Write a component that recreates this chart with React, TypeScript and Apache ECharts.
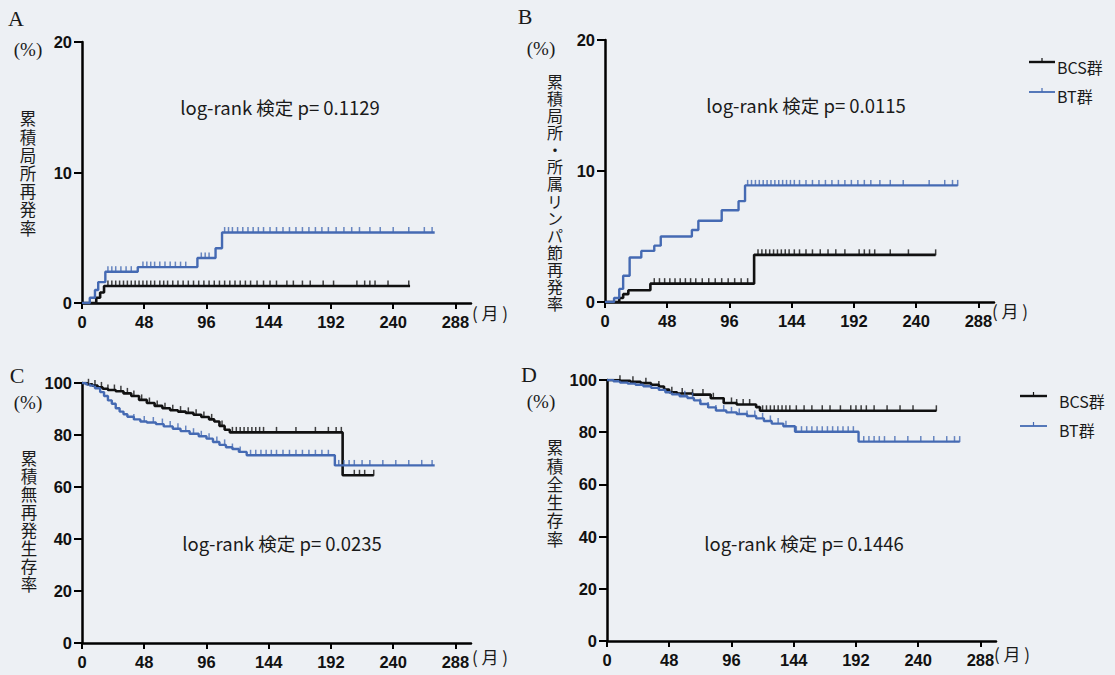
import React, { useEffect, useRef } from "react";
import * as echarts from "echarts";

// ---------- data ----------
const xTicks = [0, 48, 96, 144, 192, 240, 288];

// Panel A: cumulative local recurrence (%)
const aBcsT = [0, 11, 14, 17, 253];
const aBcsV = [0, 0.4, 0.8, 1.3, 1.3];
const aBtT = [0, 6, 10, 12.5, 18, 43, 89, 103, 108, 272];
const aBtV = [0, 0.4, 1.0, 1.6, 2.4, 2.75, 3.45, 4.2, 5.4, 5.4];
const aBcsCens = [20, 23, 26, 29, 32, 35, 38, 41, 44, 47, 50, 53, 56, 60, 63, 66, 70, 74, 78, 82, 86, 90, 94, 98, 102, 106, 110, 114, 118, 122, 126, 130, 135, 140, 145, 150, 158, 163, 170, 176, 186, 194, 212, 218, 222, 226, 236, 252];
const aBtCens = [20, 23, 26, 30, 34, 38, 47, 50, 53, 56, 60, 64, 68, 72, 76, 80, 92, 95, 98, 110, 113, 116, 120, 124, 128, 132, 136, 140, 145, 150, 155, 160, 165, 170, 175, 180, 185, 190, 196, 202, 208, 214, 222, 230, 240, 252, 264, 270];

// Panel B: cumulative locoregional recurrence (%)
const bBcsT = [0, 11, 14, 18, 35, 115, 255];
const bBcsV = [0, 0.3, 0.6, 0.9, 1.4, 3.6, 3.6];
const bBtT = [0, 7, 11, 14, 19, 28, 38, 43, 67, 72, 90, 103, 108, 272];
const bBtV = [0, 0.3, 1.0, 2.0, 3.4, 3.9, 4.3, 5.0, 5.5, 6.2, 7.0, 7.7, 8.9, 8.9];
const bBcsCens = [38, 42, 46, 50, 54, 58, 62, 66, 70, 75, 80, 85, 90, 95, 100, 105, 110, 118, 121, 124, 127, 130, 133, 136, 139, 142, 146, 150, 155, 160, 166, 172, 178, 185, 196, 200, 204, 208, 220, 234, 255];
const bBtCens = [110, 113, 116, 119, 122, 125, 128, 131, 134, 137, 140, 143, 146, 150, 155, 160, 165, 170, 175, 180, 185, 190, 195, 200, 205, 212, 220, 230, 250, 262, 268, 272];

// Panel C: cumulative recurrence-free survival (%)
const cBcsT = [0, 4, 8, 12, 16, 20, 26, 32, 38, 44, 50, 56, 62, 68, 74, 80, 86, 92, 98, 102, 106, 110, 114, 201, 225];
const cBcsV = [100, 99.5, 99, 98.3, 97.8, 97.3, 96.8, 96, 95, 93.5, 92.3, 91.2, 90.3, 89.5, 89, 88.5, 87.8, 86.9, 86, 85.2, 83.5, 82, 81, 64.5, 64.5];
const cBtT = [0, 3, 6, 10, 14, 17, 20, 23, 26, 29, 32, 35, 40, 45, 50, 57, 63, 70, 76, 83, 90, 96, 101, 106, 111, 116, 121, 127, 195, 272];
const cBtV = [100, 99.5, 99, 98, 96.5, 95, 93.3, 92, 90.3, 89, 88, 87, 86, 85.2, 84.8, 84.2, 83.3, 82.4, 81.5, 80.5, 79.5, 78.6, 77.3, 76.2, 75.3, 74.6, 73.5, 72.2, 68.3, 68.3];
const cBcsCens = [5, 10, 15, 20, 25, 30, 35, 40, 46, 52, 58, 64, 70, 76, 82, 88, 94, 100, 108, 116, 119, 122, 125, 128, 131, 134, 137, 140, 150, 165, 180, 190, 196, 200, 210, 214, 218, 225];
const cBtCens = [40, 48, 55, 62, 68, 74, 80, 86, 92, 98, 104, 110, 116, 122, 130, 134, 138, 142, 146, 150, 155, 160, 165, 170, 175, 180, 185, 190, 198, 202, 206, 210, 216, 222, 232, 242, 252, 262, 270];

// Panel D: cumulative overall survival (%)
const dBcsT = [0, 10, 18, 26, 34, 40, 44, 48, 54, 66, 80, 90, 100, 115, 118, 254];
const dBcsV = [100, 99.7, 99.3, 98.8, 98.2, 97.5, 96.3, 95.3, 94.8, 94.4, 93, 91.2, 90.6, 89.6, 88.2, 88.2];
const dBtT = [0, 5, 10, 16, 22, 28, 34, 40, 45, 50, 56, 62, 67, 72, 78, 84, 92, 100, 108, 115, 121, 127, 136, 145, 194, 272];
const dBtV = [100, 99.5, 99, 98.6, 98.2, 97.6, 97, 96.2, 95.3, 94.5, 93.8, 93.1, 92.2, 90.8, 89.5, 88.3, 87.6, 87, 86.2, 85.3, 84.3, 83.3, 82.3, 80.2, 76.4, 76.4];
const dBcsCens = [10, 20, 30, 40, 50, 58, 66, 74, 82, 90, 96, 100, 105, 110, 120, 123, 126, 129, 132, 135, 138, 141, 146, 152, 158, 166, 172, 180, 188, 192, 196, 200, 206, 216, 226, 236, 254];
const dBtCens = [60, 66, 72, 78, 84, 90, 96, 102, 108, 114, 120, 126, 132, 138, 146, 150, 154, 158, 162, 166, 170, 174, 178, 182, 186, 190, 198, 202, 206, 210, 214, 222, 232, 242, 252, 262, 268, 272];

const groupNames = ["BCS群", "BT群"];
const pValues = ["0.1129", "0.0115", "0.0235", "0.1446"];
const yTitles = ["累積局所再発率", "累積局所・所属リンパ節再発率", "累積無再発生存率", "累積全生存率"];
const panelLetters = ["A", "B", "C", "D"];

// ---------- style ----------
const BG = "#edf0f4";
const BLACK = "#111111";
const BLUE = "#456ab3";
const SANS = "'Noto Sans CJK JP', 'Noto Sans', sans-serif";
const SERIF = "'Liberation Serif', 'DejaVu Serif', serif";
const NUM = "'Liberation Sans', Arial, sans-serif";

function stepValue(times: number[], vals: number[], t: number) {
  let v = vals[0];
  for (let i = 0; i < times.length; i++) {
    if (times[i] <= t) v = vals[i];
  }
  return v;
}

const grids = [
  { left: 82, top: 42, width: 389, height: 261 },
  { left: 605, top: 40, width: 389, height: 262 },
  { left: 82, top: 383, width: 389, height: 260 },
  { left: 607, top: 380, width: 389, height: 261 },
];

function buildOption() {
  const panels = [
    { bcsT: aBcsT, bcsV: aBcsV, btT: aBtT, btV: aBtV, bcsC: aBcsCens, btC: aBtCens, max: 20, interval: 10 },
    { bcsT: bBcsT, bcsV: bBcsV, btT: bBtT, btV: bBtV, bcsC: bBcsCens, btC: bBtCens, max: 20, interval: 10 },
    { bcsT: cBcsT, bcsV: cBcsV, btT: cBtT, btV: cBtV, bcsC: cBcsCens, btC: cBtCens, max: 100, interval: 20 },
    { bcsT: dBcsT, bcsV: dBcsV, btT: dBtT, btV: dBtV, bcsC: dBcsCens, btC: dBtCens, max: 100, interval: 20 },
  ];

  const xAxis: any[] = [];
  const yAxis: any[] = [];
  const series: any[] = [];

  panels.forEach((p, i) => {
    xAxis.push({
      type: "value",
      gridIndex: i,
      min: 0,
      max: 300,
      splitLine: { show: false },
      axisLine: { show: true, lineStyle: { color: "#000", width: 2.5 } },
      axisTick: { show: true, length: 6, customValues: xTicks, lineStyle: { color: "#000", width: 2 } },
      axisLabel: {
        customValues: xTicks,
        margin: 10,
        color: "#111",
        fontSize: 16.5,
        fontWeight: "bold",
        fontFamily: NUM,
      },
    });
    yAxis.push({
      type: "value",
      gridIndex: i,
      min: 0,
      max: p.max,
      interval: p.interval,
      splitLine: { show: false },
      axisLine: { show: true, lineStyle: { color: "#000", width: 2.5 } },
      axisTick: { show: true, length: 8, lineStyle: { color: "#000", width: 2 } },
      axisLabel: {
        margin: 10,
        color: "#111",
        fontSize: 16.5,
        fontWeight: "bold",
        fontFamily: NUM,
      },
    });

    const curves = [
      { name: groupNames[0], t: p.bcsT, v: p.bcsV, c: p.bcsC, color: BLACK, w: 2.6 },
      { name: groupNames[1], t: p.btT, v: p.btV, c: p.btC, color: BLUE, w: 2.4 },
    ];
    curves.forEach((cv) => {
      series.push({
        name: cv.name,
        type: "line",
        xAxisIndex: i,
        yAxisIndex: i,
        step: "end",
        symbol: "none",
        lineStyle: { color: cv.color, width: cv.w },
        itemStyle: { color: cv.color },
        data: cv.t.map((t, k) => [t, cv.v[k]]),
        silent: true,
        z: 3,
      });
      series.push({
        name: cv.name,
        type: "scatter",
        xAxisIndex: i,
        yAxisIndex: i,
        symbol: "rect",
        symbolSize: [1.5, 6],
        symbolOffset: [0, -2.5],
        itemStyle: { color: cv.color },
        data: cv.c.map((t) => [t, stepValue(cv.t, cv.v, t)]),
        silent: true,
        z: 4,
      });
    });
  });

  const textStyle = (extra: any) => ({ fill: "#1a1a1a", ...extra });

  const graphic: any[] = [];
  const letterPos = [
    [16, 18],
    [525, 16],
    [17, 375],
    [529, 374],
  ];
  const pctPos = [
    [28, 49],
    [541, 48],
    [28, 402],
    [541, 401],
  ];
  // x, centre y, spacing between characters, font size
  const yTitlePos = [
    [28, 173, 18.2, 16.5],
    [555, 192, 17.1, 16],
    [29, 521, 18, 16.5],
    [555, 493, 18.3, 16.5],
  ];
  const pPos = [
    [280, 107],
    [806, 105],
    [282, 543],
    [804, 543],
  ];
  const monthPos = [
    [472, 312],
    [992, 310],
    [472, 656],
    [994, 653],
  ];
  for (let i = 0; i < 4; i++) {
    graphic.push({
      type: "text",
      x: letterPos[i][0],
      y: letterPos[i][1],
      style: textStyle({ text: panelLetters[i], font: `22px ${SERIF}`, align: "center", verticalAlign: "middle" }),
    });
    graphic.push({
      type: "text",
      x: pctPos[i][0],
      y: pctPos[i][1],
      style: textStyle({ text: "(%)", font: `19px ${SERIF}`, align: "center", verticalAlign: "middle" }),
    });
    graphic.push({
      type: "text",
      x: yTitlePos[i][0],
      y: yTitlePos[i][1],
      style: textStyle({
        text: Array.from(yTitles[i]).join("\n"),
        font: `${yTitlePos[i][3]}px ${SANS}`,
        lineHeight: yTitlePos[i][2],
        align: "center",
        verticalAlign: "middle",
      }),
    });
    graphic.push({
      type: "text",
      x: pPos[i][0],
      y: pPos[i][1],
      style: textStyle({
        text: `log-rank 検定 p= ${pValues[i]}`,
        font: `18.5px ${SANS}`,
        align: "center",
        verticalAlign: "middle",
      }),
    });
    graphic.push({
      type: "text",
      x: monthPos[i][0],
      y: monthPos[i][1],
      style: textStyle({ text: "( 月 )", font: `17px ${SANS}`, align: "left", verticalAlign: "middle" }),
    });
  }

  // Legends (panels B and D)
  const legends = [
    { x1: 1029, x2: 1055, ys: [62, 92], tx: 1057, ty: [67, 96] },
    { x1: 1020, x2: 1047, ys: [396, 426], tx: 1059, ty: [401, 430] },
  ];
  legends.forEach((lg) => {
    [BLACK, BLUE].forEach((col, k) => {
      const y = lg.ys[k];
      const mid = (lg.x1 + lg.x2) / 2;
      graphic.push({
        type: "line",
        shape: { x1: lg.x1, y1: y, x2: lg.x2, y2: y },
        style: { stroke: col, lineWidth: k === 0 ? 2.4 : 1.8 },
      });
      graphic.push({
        type: "line",
        shape: { x1: mid, y1: y - 4, x2: mid, y2: y },
        style: { stroke: col, lineWidth: 1.2 },
      });
      graphic.push({
        type: "text",
        x: lg.tx,
        y: lg.ty[k],
        style: textStyle({ text: groupNames[k], font: `16px ${SANS}`, align: "left", verticalAlign: "middle" }),
      });
    });
  });

  return {
    animation: false,
    backgroundColor: BG,
    grid: grids.map((g) => ({ ...g, containLabel: false })),
    xAxis,
    yAxis,
    series,
    graphic,
  };
}

export default function App() {
  const ref = useRef<HTMLDivElement>(null);
  useEffect(() => {
    if (!ref.current) return;
    const chart = echarts.init(ref.current, undefined, { renderer: "svg" });
    chart.setOption(buildOption() as any);
    return () => chart.dispose();
  }, []);
  return (
    <div
      ref={ref}
      style={{ position: "absolute", left: 0, top: 0, width: 1115, height: 675, background: BG }}
    />
  );
}
